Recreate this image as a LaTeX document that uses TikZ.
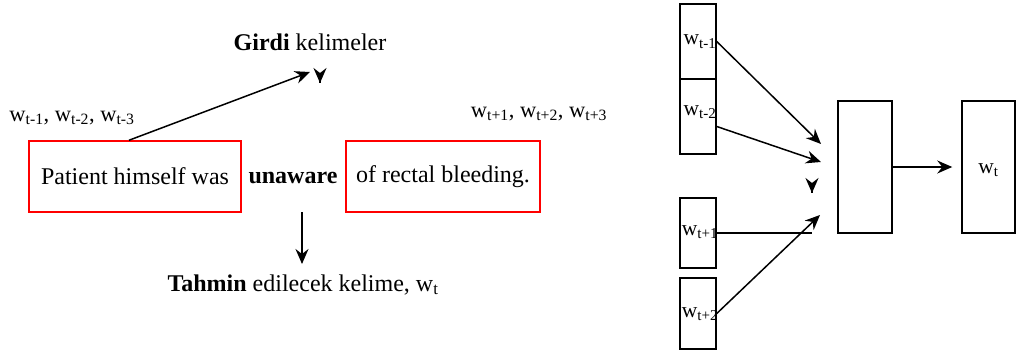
\documentclass[tikz,border=0pt]{standalone}
\usepackage{fontspec}
\setmainfont{Liberation Serif}
\usetikzlibrary{arrows.meta}

\begin{document}
\begin{tikzpicture}
  [x=1pt,y=-1pt,>={Stealth[length=15pt,width=13pt,inset=5pt]},line width=1.5pt,
   every node/.style={font=\fontsize{24}{28}\selectfont,inner sep=0pt},
   redbox/.style={draw=red,rectangle,minimum height=71pt},
   wordbox/.style={draw,rectangle,minimum width=36pt},
   layerbox/.style={draw,rectangle,minimum height=132pt},
   boxlabel/.style={anchor=base,font=\fontsize{21.5}{24}\selectfont}]
  \useasboundingbox (0,0) rectangle (1018,356);

  % sentence with the target word
  \node[redbox,minimum width=212pt] (left) at (135,176.5) {Patient himself was};
  \node[redbox,minimum width=194pt] (right) at (443,176.5) {of rectal bleeding.};
  \node[anchor=base] (target) at (293,183) {\textbf{unaware}};
  \node[anchor=base,font=\fontsize{22.5}{26}\selectfont] (ctxl) at (72,121) {w\textsubscript{t-1}, w\textsubscript{t-2}, w\textsubscript{t-3}};
  \node[anchor=base,font=\fontsize{22.5}{26}\selectfont] (ctxr) at (539,117) {w\textsubscript{t+1}, w\textsubscript{t+2}, w\textsubscript{t+3}};
  \node[anchor=base] (girdi) at (310,50) {\textbf{Girdi} kelimeler};
  \node[anchor=base] (tahmin) at (303,291) {\textbf{Tahmin} edilecek kelime, w\textsubscript{t}};
  \coordinate (up) at (310,72);
  \coordinate (down) at (302,264);

  \draw[->] ([xshift=-6pt]left.north) -- (up);
  \draw[->] (302,212) -- (down);
  \draw[->] (320,82.9) -- (320,83);

  % CBOW network
  \node[wordbox,minimum height=75pt] (wm1) at (698,41.5) {};
  \node[wordbox,minimum height=75pt] (wm2) at (698,116.5) {};
  \node[wordbox,minimum height=70pt] (wp1) at (698,233) {};
  \node[wordbox,minimum height=71pt] (wp2) at (698,313.5) {};
  \node[boxlabel] at (700,45) {w\textsubscript{t-1}};
  \node[boxlabel] at (700,115) {w\textsubscript{t-2}};
  \node[boxlabel] at (700,235) {w\textsubscript{t+1}};
  \node[boxlabel] at (700,317) {w\textsubscript{t+2}};
  \node[layerbox,minimum width=54pt] (hid) at (865,167) {};
  \node[layerbox,minimum width=53pt] (out) at (988.5,167) {};
  \node[boxlabel] at (988.5,173) {w\textsubscript{t}};

  \coordinate (in1) at (821,144);
  \coordinate (in2) at (821,162);
  \coordinate (in3) at (812,233);
  \coordinate (in4) at (820,215);

  \draw[->] (wm1.east) -- (in1);
  \draw[->] ([yshift=-10pt]wm2.east) -- (in2);
  \draw (wp1.east) -- (in3);
  \draw[->] (wp2.east) -- (in4);
  \draw[->] (812,192.9) -- (812,193);
  \draw[->,shorten >=9pt] (hid.east) -- (out.west);
\end{tikzpicture}
\end{document}
